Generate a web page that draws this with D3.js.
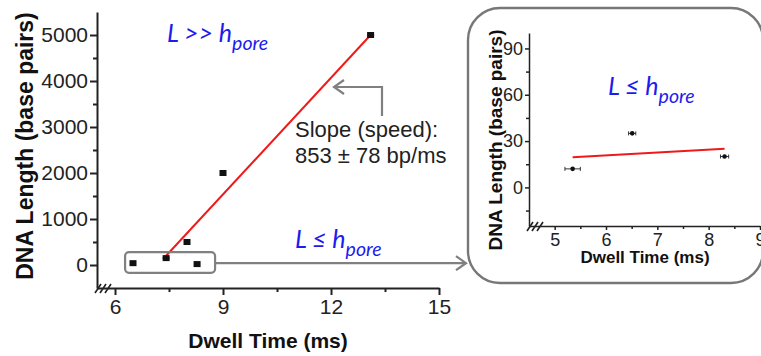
<!DOCTYPE html>
<html>
<head>
<meta charset="utf-8">
<script src="https://cdn.jsdelivr.net/npm/d3@7"></script>
<style>
  body { margin: 0; background: #fff; }
  .axis path, .axis line { stroke: #222; }
  .axis text { fill: #222; font-family: "Liberation Sans", Arial, sans-serif; }
</style>
</head>
<body>
<div id="chart"></div>
<script>
// Main panel: dwell time (ms) vs DNA length (bp)
var mainTime = [6.5, 7.42, 8.0, 8.28, 9.0, 13.1];
var mainLength = [40, 150, 500, 20, 2000, 5000];
var mainTimeErr = [0, 0.1, 0, 0, 0, 0.1];
var mainFitTime = [7.42, 13.1];
var mainFitLength = [200, 5000];
var mainXTicks = [6, 9, 12, 15];
var mainXMinor = [7.5, 10.5, 13.5];
var mainYTicks = [0, 1000, 2000, 3000, 4000, 5000];
var mainYMinor = [500, 1500, 2500, 3500, 4500];

// Inset: short fragments
var insetTime = [5.35, 6.51, 8.31];
var insetLength = [12, 35, 20];
var insetTimeErr = [0.15, 0.07, 0.08];
var insetFitTime = [5.35, 8.31];
var insetFitLength = [19.5, 25];
var insetXTicks = [5, 6, 7, 8, 9];
var insetXMinor = [5.5, 6.5, 7.5, 8.5];
var insetYTicks = [0, 30, 60, 90];
var insetYMinor = [-15, 15, 45, 75];

var W = 761, H = 356;
var blue = "#1c1ced", red = "#ee1a1a", grey = "#808080";
var sans = "'Liberation Sans', Arial, sans-serif";
var italicFont = "Lato, 'Open Sans', sans-serif";
var fmt = d3.format("d");

var svg = d3.select("#chart").append("svg")
  .attr("width", W).attr("height", H)
  .style("background", "#fff");

// grey arrow head (open chevron)
svg.append("defs").append("marker")
  .attr("id", "chev")
  .attr("viewBox", "-12 -8 14 16")
  .attr("refX", 0).attr("refY", 0)
  .attr("markerWidth", 14).attr("markerHeight", 16)
  .attr("markerUnits", "userSpaceOnUse")
  .attr("orient", "auto")
  .append("path")
  .attr("d", "M-10,-7L0,0L-10,7")
  .style("fill", "none").style("stroke", grey).style("stroke-width", 2.2);

function drawPanel(g, o) {
  var x = d3.scaleLinear().domain(o.xDomain).range(o.xRange);
  var y = d3.scaleLinear().domain(o.yDomain).range(o.yRange);

  // minor ticks first
  g.append("g").attr("class", "axis")
    .attr("transform", "translate(0," + o.yRange[0] + ")")
    .call(d3.axisBottom(x).tickValues(o.xMinor).tickSize(o.minor).tickSizeOuter(0).tickFormat(""))
    .call(function (a) { a.select(".domain").remove(); })
    .selectAll("line").style("stroke-width", o.lw);
  g.append("g").attr("class", "axis")
    .attr("transform", "translate(" + o.xRange[0] + ",0)")
    .call(d3.axisLeft(y).tickValues(o.yMinor).tickSize(o.minor).tickSizeOuter(0).tickFormat(""))
    .call(function (a) { a.select(".domain").remove(); })
    .selectAll("line").style("stroke-width", o.lw);

  var xa = g.append("g").attr("class", "axis")
    .attr("transform", "translate(0," + o.yRange[0] + ")")
    .call(d3.axisBottom(x).tickValues(o.xTicks).tickFormat(fmt)
      .tickSize(o.major).tickSizeOuter(0).tickPadding(o.xPad));
  xa.selectAll("text").style("font-size", o.tickFont + "px");
  xa.selectAll("line").style("stroke-width", o.lw);
  xa.select(".domain").style("stroke-width", o.lw);

  var ya = g.append("g").attr("class", "axis")
    .attr("transform", "translate(" + o.xRange[0] + ",0)")
    .call(d3.axisLeft(y).tickValues(o.yTicks).tickFormat(fmt)
      .tickSize(o.major).tickSizeOuter(0).tickPadding(o.yPad));
  ya.selectAll("text").style("font-size", o.tickFont + "px");
  ya.selectAll("line").style("stroke-width", o.lw);
  ya.select(".domain").style("stroke-width", o.lw);

  // axis break marks
  var bx = o.xRange[0], by = o.yRange[0];
  for (var i = 0; i < 3; i++) {
    g.append("line")
      .attr("x1", bx + 1 + i * 5 - 3).attr("y1", by + 5)
      .attr("x2", bx + 1 + i * 5 + 3).attr("y2", by - 4)
      .style("stroke", "#222").style("stroke-width", 1.6);
  }

  // axis titles
  g.append("text")
    .attr("x", o.xTitle[0]).attr("y", o.xTitle[1])
    .attr("text-anchor", "middle")
    .style("font-family", sans).style("font-weight", "bold")
    .style("font-size", o.xTitleFont + "px").style("fill", "#111")
    .text("Dwell Time (ms)");
  g.append("text")
    .attr("transform", "translate(" + o.yTitle[0] + "," + o.yTitle[1] + ") rotate(-90)")
    .attr("text-anchor", "middle")
    .style("font-family", sans).style("font-weight", "bold")
    .style("font-size", o.yTitleFont + "px").style("fill", "#111")
    .text("DNA Length (base pairs)");

  return { x: x, y: y };
}

function regime(g, px, py, size, rel) {
  var t = g.append("text")
    .attr("x", px).attr("y", py)
    .style("font-family", italicFont).style("font-style", "italic")
    .style("font-size", size + "px").style("fill", blue);
  t.append("tspan").text("L " + rel + " h");
  t.append("tspan").attr("dy", size * 0.3).style("font-size", (size * 0.78) + "px").text("pore");
}

// ---------- main panel ----------
var main = svg.append("g");
var m = drawPanel(main, {
  xDomain: [5.5, 15], xRange: [97, 439],
  yDomain: [-500, 5500], yRange: [288, 12],
  xTicks: mainXTicks, xMinor: mainXMinor,
  yTicks: mainYTicks, yMinor: mainYMinor,
  major: 7, minor: 4, lw: 2, tickFont: 21, xPad: 4, yPad: 2,
  xTitle: [268, 348], xTitleFont: 21,
  yTitle: [33, 146], yTitleFont: 23
});

// fit line
main.append("line")
  .attr("x1", m.x(mainFitTime[0])).attr("y1", m.y(mainFitLength[0]))
  .attr("x2", m.x(mainFitTime[1])).attr("y2", m.y(mainFitLength[1]))
  .style("stroke", red).style("stroke-width", 2);

// error bars + square markers
mainTime.forEach(function (t, i) {
  if (mainTimeErr[i] > 0) {
    main.append("line")
      .attr("x1", m.x(t - mainTimeErr[i])).attr("x2", m.x(t + mainTimeErr[i]))
      .attr("y1", m.y(mainLength[i])).attr("y2", m.y(mainLength[i]))
      .style("stroke", "#111").style("stroke-width", 1);
  }
});
main.selectAll(".pt").data(mainTime).enter().append("rect")
  .attr("class", "pt")
  .attr("x", function (d) { return m.x(d) - 3.5; })
  .attr("y", function (d, i) { return m.y(mainLength[i]) - 3; })
  .attr("width", 7).attr("height", 6)
  .style("fill", "#111");

regime(main, 167, 42, 25, ">>");
regime(main, 295, 248, 25, "\u2264");

// slope callout
main.append("path")
  .attr("d", "M382,116V87H334")
  .attr("marker-end", "url(#chev)")
  .style("fill", "none").style("stroke", grey).style("stroke-width", 2.2);
var st = main.append("text")
  .style("font-family", sans).style("font-size", "22px").style("fill", "#222");
st.append("tspan").attr("x", 295).attr("y", 137).text("Slope (speed):");
st.append("tspan").attr("x", 295).attr("y", 163).text("853 \u00b1 78 bp/ms");

// box around short fragments and connector
main.append("rect")
  .attr("x", m.x(6.28)).attr("y", m.y(280))
  .attr("width", m.x(8.78) - m.x(6.28)).attr("height", m.y(-170) - m.y(280))
  .attr("rx", 4)
  .style("fill", "none").style("stroke", grey).style("stroke-width", 2.2);
main.append("line")
  .attr("x1", m.x(8.78)).attr("y1", m.y(40))
  .attr("x2", 466).attr("y2", m.y(40))
  .attr("marker-end", "url(#chev)")
  .style("stroke", grey).style("stroke-width", 2.2);

// ---------- inset ----------
var inset = svg.append("g");
inset.append("rect")
  .attr("x", 468).attr("y", 8).attr("width", 295).attr("height", 275)
  .attr("rx", 32)
  .style("fill", "#fff").style("stroke", "#777").style("stroke-width", 2.4);

var n = drawPanel(inset, {
  xDomain: [4.5, 9], xRange: [529, 760],
  yDomain: [-25, 100], yRange: [226, 33],
  xTicks: insetXTicks, xMinor: insetXMinor,
  yTicks: insetYTicks, yMinor: insetYMinor,
  major: 4, minor: 3, lw: 1.5, tickFont: 18, xPad: 3, yPad: 2,
  xTitle: [645, 263], xTitleFont: 17,
  yTitle: [502, 140], yTitleFont: 19
});

inset.append("line")
  .attr("x1", n.x(insetFitTime[0])).attr("y1", n.y(insetFitLength[0]))
  .attr("x2", n.x(insetFitTime[1])).attr("y2", n.y(insetFitLength[1]))
  .style("stroke", red).style("stroke-width", 2);

insetTime.forEach(function (t, i) {
  var yy = n.y(insetLength[i]);
  var x0 = n.x(t - insetTimeErr[i]), x1 = n.x(t + insetTimeErr[i]);
  inset.append("path")
    .attr("d", "M" + x0 + "," + yy + "H" + x1 + "M" + x0 + "," + (yy - 2) + "V" + (yy + 2) + "M" + x1 + "," + (yy - 2) + "V" + (yy + 2))
    .style("fill", "none").style("stroke", "#222").style("stroke-width", 0.9);
});
inset.selectAll(".dot").data(insetTime).enter().append("circle")
  .attr("class", "dot")
  .attr("cx", function (d) { return n.x(d); })
  .attr("cy", function (d, i) { return n.y(insetLength[i]); })
  .attr("r", 2.3)
  .style("fill", "#111");

regime(inset, 608, 95, 25, "\u2264");
</script>
</body>
</html>
